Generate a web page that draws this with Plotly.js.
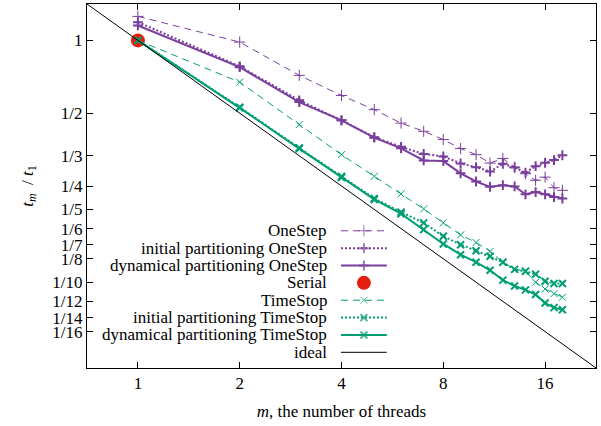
<!DOCTYPE html>
<html>
<head>
<meta charset="utf-8">
<script src="https://cdn.plot.ly/plotly-3.0.1.min.js"></script>
<style>html,body{margin:0;padding:0;background:#fff;}#chart{width:601px;height:426px;}</style>
</head>
<body>
<div id="chart"></div>
<script>
// ---- data ----
const threads = [1,2,3,4,5,6,7,8,9,10,11,12,13,14,15,16,17,18];
const oneStep      = [1.257,0.984,0.717,0.592,0.517,0.455,0.421,0.389,0.357,0.337,0.311,0.325,0.299,0.281,0.264,0.272,0.246,0.240];
const initOneStep  = [1.19,0.781,0.565,0.467,0.398,0.363,0.339,0.331,0.310,0.299,0.287,0.309,0.298,0.284,0.302,0.312,0.320,0.335];
const dynOneStep   = [1.153,0.775,0.556,0.467,0.396,0.358,0.319,0.317,0.282,0.261,0.248,0.252,0.249,0.231,0.236,0.231,0.225,0.222];
const serialX = [1];
const serialY = [1];
const timeStop     = [1,0.672,0.449,0.337,0.274,0.232,0.201,0.176,0.157,0.146,0.134,0.121,0.113,0.111,0.100,0.0937,0.0897,0.0867];
const initTimeStop = [1,0.529,0.359,0.274,0.222,0.195,0.176,0.155,0.143,0.135,0.128,0.121,0.113,0.111,0.108,0.101,0.0988,0.0988];
const dynTimeStop  = [1,0.526,0.357,0.271,0.220,0.192,0.165,0.144,0.130,0.121,0.112,0.102,0.0965,0.093,0.089,0.082,0.0785,0.077];
const idealX = [0.70711, 22.6274];
const idealY = [1.41421, 0.044194];
const xTicks = [1,2,4,8,16];
const xTickText = ['1','2','4','8','16'];
const yTicks = [1,1/2,1/3,1/4,1/5,1/6,1/7,1/8,1/10,1/12,1/14,1/16];
const yTickText = ['1','1/2','1/3','1/4','1/5','1/6','1/7','1/8','1/10','1/12','1/14','1/16'];
const legendNames = ['OneStep','initial partitioning OneStep','dynamical partitioning OneStep','Serial','TimeStop','initial partitioning TimeStop','dynamical partitioning TimeStop','ideal'];

// ---- styles ----
const PURPLE = '#7a3f9d';
const GREEN = '#009e73';
const RED = '#e51e10';
const FONT = '"Liberation Serif", serif';

const styles = [
  {color: PURPLE, width: 1, dash: '7px,5px', symbol: 'cross-thin', size: 8, mlw: 1},
  {color: PURPLE, width: 2, dash: '2px,2px', symbol: 'cross-thin', size: 7, mlw: 2},
  {color: PURPLE, width: 2, dash: 'solid', symbol: 'cross-thin', size: 7, mlw: 2},
  null,
  {color: GREEN, width: 1, dash: '7px,5px', symbol: 'x-thin', size: 7, mlw: 1},
  {color: GREEN, width: 2, dash: '2px,2px', symbol: 'x-thin', size: 7, mlw: 2},
  {color: GREEN, width: 2, dash: 'solid', symbol: 'x-thin', size: 7, mlw: 2},
  {color: '#000000', width: 1, dash: 'solid', symbol: null}
];
const seriesY = [oneStep, initOneStep, dynOneStep, null, timeStop, initTimeStop, dynTimeStop];

const traces = [];
seriesY.forEach((ys, i) => {
  if (i === 3) {
    traces.push({x: serialX, y: serialY, mode: 'markers', type: 'scatter', showlegend: false,
      marker: {color: RED, size: 14, symbol: 'circle'}});
    return;
  }
  const s = styles[i];
  traces.push({x: threads, y: ys, mode: 'lines+markers', type: 'scatter', showlegend: false,
    line: {color: s.color, width: s.width, dash: s.dash},
    marker: {symbol: s.symbol, size: s.size, color: s.color, line: {color: s.color, width: s.mlw}}});
});
traces.push({x: idealX, y: idealY, mode: 'lines', type: 'scatter', showlegend: false,
  line: {color: '#000', width: 1}});

// ---- manual legend (gnuplot style: text right, sample left) ----
const legX0 = 0.499, legX1 = 0.589, legXm = 0.544, legTextX = 0.475;
const legY0 = 0.377, legDY = 0.0477;
const annotations = [];
legendNames.forEach((name, i) => {
  const y = legY0 - i * legDY;
  annotations.push({xref: 'paper', yref: 'paper', x: legTextX, y: y, text: name, showarrow: false,
    xanchor: 'right', yanchor: 'middle', font: {family: FONT, size: 17, color: '#000'}});
  const s = styles[i];
  if (i === 3) {
    traces.push({x: [legXm], y: [y], xaxis: 'x2', yaxis: 'y2', mode: 'markers', type: 'scatter', showlegend: false, hoverinfo: 'skip',
      marker: {color: RED, size: 14, symbol: 'circle'}});
  } else {
    const t = {x: [legX0, legXm, legX1], y: [y, y, y], xaxis: 'x2', yaxis: 'y2', type: 'scatter',
      mode: s.symbol ? 'lines+markers' : 'lines', showlegend: false, hoverinfo: 'skip',
      line: {color: s.color, width: s.width, dash: s.dash}};
    if (s.symbol) t.marker = {symbol: s.symbol, size: [0, s.size, 0], color: s.color, line: {color: s.color, width: s.mlw}};
    traces.push(t);
  }
});

const layout = {
  width: 601, height: 426,
  margin: {l: 87, r: 5, t: 4, b: 58},
  paper_bgcolor: '#fff', plot_bgcolor: '#fff',
  font: {family: FONT, size: 17, color: '#000'},
  showlegend: false,
  xaxis: {
    type: 'log', range: [Math.log10(idealX[0]), Math.log10(idealX[1])],
    tickvals: xTicks, ticktext: xTickText, ticks: 'inside', ticklen: 6, tickcolor: '#000',
    showline: true, linecolor: '#000', linewidth: 1, mirror: 'allticks', showgrid: false, zeroline: false,
    tickfont: {family: FONT, size: 17, color: '#000'},
    title: {text: '<i>m</i>, the number of threads', font: {family: FONT, size: 17, color: '#000'}, standoff: 12}
  },
  yaxis: {
    type: 'log', range: [Math.log10(idealY[1]), Math.log10(idealY[0])],
    tickvals: yTicks, ticktext: yTickText, ticks: 'inside', ticklen: 6, tickcolor: '#000',
    showline: true, linecolor: '#000', linewidth: 1, mirror: 'allticks', showgrid: false, zeroline: false,
    tickfont: {family: FONT, size: 17, color: '#000'},
    title: {text: '<i>t</i><sub><i>m</i></sub>  / <i>t</i><sub>1</sub>', font: {family: FONT, size: 17, color: '#000'}, standoff: 14}
  },
  xaxis2: {overlaying: 'x', range: [0, 1], visible: false, fixedrange: true},
  yaxis2: {overlaying: 'y', range: [0, 1], visible: false, fixedrange: true},
  annotations: annotations
};

Plotly.newPlot('chart', traces, layout, {displayModeBar: false, staticPlot: true});
</script>
</body>
</html>
